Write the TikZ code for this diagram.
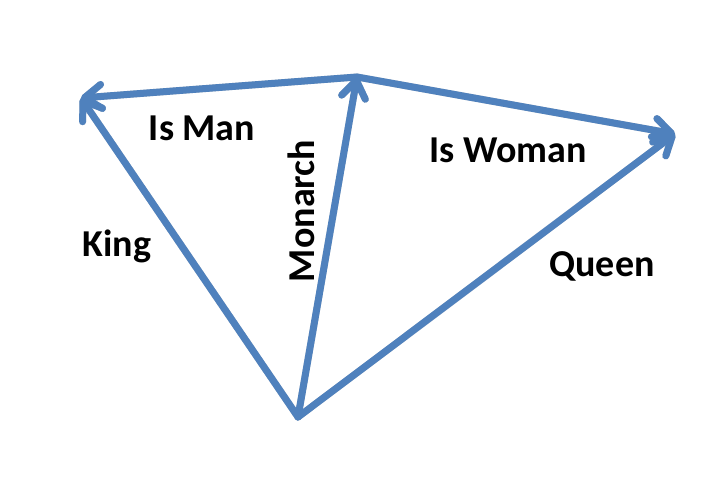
\documentclass[tikz,border=0pt]{standalone}
\usepackage{fontspec}
\setmainfont{Carlito}
\usetikzlibrary{arrows.meta}
\definecolor{vecblue}{RGB}{79,129,189}
\tikzset{
  vecbase/.style={line width=7pt, line cap=round, line join=round,
    -{Straight Barb[length=17pt,width=24pt,line cap=round,line join=round]}},
  vec/.style={vecbase, draw=vecblue},
  vecshadow/.style={vecbase, draw=black!18, shift={(1.5,1.5)}},
  lbl/.style={font=\bfseries\fontsize{38}{42}\selectfont, text=black, inner sep=0pt}
}
\begin{document}
\begin{tikzpicture}[x=1pt,y=-1pt]
\useasboundingbox (0,0) rectangle (720,498);
\coordinate (man) at (81,98);
\coordinate (mon) at (357,77);
\coordinate (woman) at (675,134);
\coordinate (o) at (298,417);
\foreach \a/\b in {o/man,o/mon,o/woman,mon/man,mon/woman}
  \draw[vecshadow] (\a) -- (\b);
\draw[vec] (o) -- (man);
\draw[vec] (o) -- (mon);
\draw[vec] (o) -- (woman);
\draw[vec] (mon) -- (man);
\draw[vec] (mon) -- (woman);
\node[lbl] (ism) at (202,128) {Is Man};
\node[lbl] (isw) at (508,150) {Is Woman};
\node[lbl] (king) at (117,246) {King};
\node[lbl, rotate=90] (monarch) at (301,211) {Monarch};
\node[lbl] (queen) at (602,266) {Queen};
\end{tikzpicture}
\end{document}
